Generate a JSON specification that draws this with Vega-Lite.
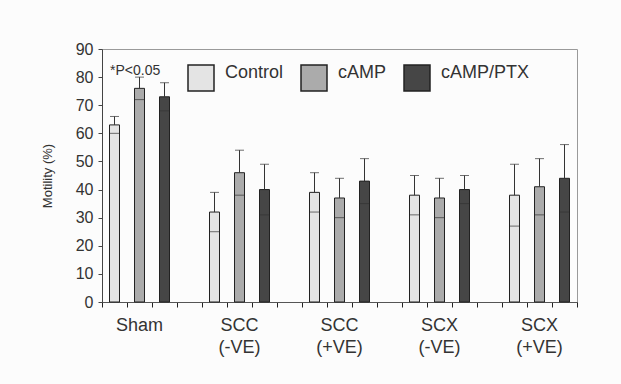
{
  "$schema": "https://vega.github.io/schema/vega-lite/v6.json",
  "width": 475,
  "height": 253,
  "autosize": {"type": "none"},
  "padding": {"left": 102, "top": 49, "right": 44, "bottom": 82},
  "background": "#fcfcfc",
  "config": {
    "font": "Liberation Sans",
    "view": {"stroke": "#9a9a9a", "strokeWidth": 1},
    "axisY": {
      "titleFontSize": 13,
      "titleFontWeight": "normal",
      "titleColor": "#333",
      "titlePadding": 21,
      "labelFontSize": 16,
      "labelColor": "#333",
      "labelPadding": 5,
      "tickSize": 4,
      "grid": false,
      "domainColor": "#444",
      "tickColor": "#444"
    }
  },
  "data": {
    "values": [
      {"group": "Sham", "treatment": "Control", "mean": 63, "lo": 60, "hi": 66},
      {"group": "Sham", "treatment": "cAMP", "mean": 76, "lo": 72, "hi": 80},
      {"group": "Sham", "treatment": "cAMP/PTX", "mean": 73, "lo": 68, "hi": 78},
      {"group": "SCC (-VE)", "treatment": "Control", "mean": 32, "lo": 25, "hi": 39},
      {"group": "SCC (-VE)", "treatment": "cAMP", "mean": 46, "lo": 38, "hi": 54},
      {"group": "SCC (-VE)", "treatment": "cAMP/PTX", "mean": 40, "lo": 31, "hi": 49},
      {"group": "SCC (+VE)", "treatment": "Control", "mean": 39, "lo": 32, "hi": 46},
      {"group": "SCC (+VE)", "treatment": "cAMP", "mean": 37, "lo": 30, "hi": 44},
      {"group": "SCC (+VE)", "treatment": "cAMP/PTX", "mean": 43, "lo": 35, "hi": 51},
      {"group": "SCX (-VE)", "treatment": "Control", "mean": 38, "lo": 31, "hi": 45},
      {"group": "SCX (-VE)", "treatment": "cAMP", "mean": 37, "lo": 30, "hi": 44},
      {"group": "SCX (-VE)", "treatment": "cAMP/PTX", "mean": 40, "lo": 35, "hi": 45},
      {"group": "SCX (+VE)", "treatment": "Control", "mean": 38, "lo": 27, "hi": 49},
      {"group": "SCX (+VE)", "treatment": "cAMP", "mean": 41, "lo": 31, "hi": 51},
      {"group": "SCX (+VE)", "treatment": "cAMP/PTX", "mean": 44, "lo": 32, "hi": 56}
    ]
  },
  "layer": [
    {
      "mark": {"type": "bar", "stroke": "#222", "strokeWidth": 1},
      "encoding": {
        "x": {
          "field": "group",
          "type": "nominal",
          "scale": {
            "domain": ["Sham", "SCC (-VE)", "SCC (+VE)", "SCX (-VE)", "SCX (+VE)"],
            "paddingInner": 0.25,
            "paddingOuter": 0
          },
          "axis": {
            "title": null,
            "ticks": false,
            "domain": true,
            "domainColor": "#555",
            "labelAngle": 0,
            "labelFontSize": 18,
            "labelLineHeight": 22,
            "labelColor": "#333",
            "labelPadding": 14,
            "labelExpr": "split(datum.label, ' ')"
          }
        },
        "xOffset": {
          "field": "treatment",
          "type": "nominal",
          "scale": {"domain": ["Control", "cAMP", "cAMP/PTX"], "paddingInner": 0.6, "paddingOuter": 0.3}
        },
        "y": {
          "field": "mean",
          "type": "quantitative",
          "scale": {"domain": [0, 90], "nice": false},
          "axis": {"title": "Motility (%)", "values": [0, 10, 20, 30, 40, 50, 60, 70, 80, 90]}
        },
        "fill": {
          "field": "treatment",
          "type": "nominal",
          "scale": {
            "domain": ["Control", "cAMP", "cAMP/PTX"],
            "range": ["#e4e4e4", "#ababab", "#464646"]
          },
          "legend": {
            "orient": "none",
            "legendX": 8,
            "legendY": 15,
            "direction": "horizontal",
            "title": "*P<0.05",
            "titleOrient": "left",
            "titleFontSize": 14,
            "titleFontWeight": "normal",
            "titleColor": "#333",
            "titlePadding": 26,
            "titleBaseline": "top",
            "titleAnchor": "start",
            "symbolType": "square",
            "symbolSize": 676,
            "symbolStrokeColor": "#222",
            "symbolStrokeWidth": 1.5,
            "symbolOpacity": 1,
            "labelFontSize": 18,
            "labelColor": "#333",
            "labelOffset": 10,
            "labelBaseline": "alphabetic",
            "columnPadding": 14
          }
        }
      }
    },
    {
      "mark": {"type": "rule", "color": "#333", "strokeWidth": 1},
      "encoding": {
        "x": {
          "field": "group",
          "type": "nominal",
          "scale": {
            "domain": ["Sham", "SCC (-VE)", "SCC (+VE)", "SCX (-VE)", "SCX (+VE)"],
            "paddingInner": 0.25,
            "paddingOuter": 0
          },
          "axis": null
        },
        "xOffset": {
          "field": "treatment",
          "type": "nominal",
          "scale": {"domain": ["Control", "cAMP", "cAMP/PTX"], "paddingInner": 0.6, "paddingOuter": 0.3}
        },
        "y": {
          "field": "mean",
          "type": "quantitative",
          "axis": {"title": "Motility (%)", "values": [0, 10, 20, 30, 40, 50, 60, 70, 80, 90]}
        },
        "y2": {"field": "hi"}
      }
    },
    {
      "mark": {"type": "tick", "color": "#333", "size": 9, "thickness": 1},
      "encoding": {
        "x": {
          "field": "group",
          "type": "nominal",
          "scale": {
            "domain": ["Sham", "SCC (-VE)", "SCC (+VE)", "SCX (-VE)", "SCX (+VE)"],
            "paddingInner": 0.25,
            "paddingOuter": 0
          },
          "axis": null
        },
        "xOffset": {
          "field": "treatment",
          "type": "nominal",
          "scale": {"domain": ["Control", "cAMP", "cAMP/PTX"], "paddingInner": 0.6, "paddingOuter": 0.3}
        },
        "y": {
          "field": "hi",
          "type": "quantitative",
          "axis": {"title": "Motility (%)", "values": [0, 10, 20, 30, 40, 50, 60, 70, 80, 90]}
        }
      }
    },
    {
      "mark": {"type": "tick", "color": "#333", "size": 9, "thickness": 1},
      "encoding": {
        "x": {
          "field": "group",
          "type": "nominal",
          "scale": {
            "domain": ["Sham", "SCC (-VE)", "SCC (+VE)", "SCX (-VE)", "SCX (+VE)"],
            "paddingInner": 0.25,
            "paddingOuter": 0
          },
          "axis": null
        },
        "xOffset": {
          "field": "treatment",
          "type": "nominal",
          "scale": {"domain": ["Control", "cAMP", "cAMP/PTX"], "paddingInner": 0.6, "paddingOuter": 0.3}
        },
        "y": {
          "field": "lo",
          "type": "quantitative",
          "axis": {"title": "Motility (%)", "values": [0, 10, 20, 30, 40, 50, 60, 70, 80, 90]}
        }
      }
    },
    {
      "mark": {"type": "point", "opacity": 0},
      "encoding": {
        "x": {
          "field": "mean",
          "type": "quantitative",
          "scale": {"domain": [0, 19], "nice": false, "zero": false},
          "axis": {
            "orient": "bottom",
            "values": [0, 1, 2, 3, 4, 5, 6, 7, 8, 9, 10, 11, 12, 13, 14, 15, 16, 17, 18, 19],
            "labels": false,
            "domain": true,
            "domainColor": "#555",
            "ticks": true,
            "tickSize": 5,
            "tickWidth": 1,
            "tickColor": "#222",
            "grid": false,
            "title": null
          }
        }
      }
    }
  ],
  "resolve": {"scale": {"x": "independent"}, "axis": {"x": "independent"}}
}
